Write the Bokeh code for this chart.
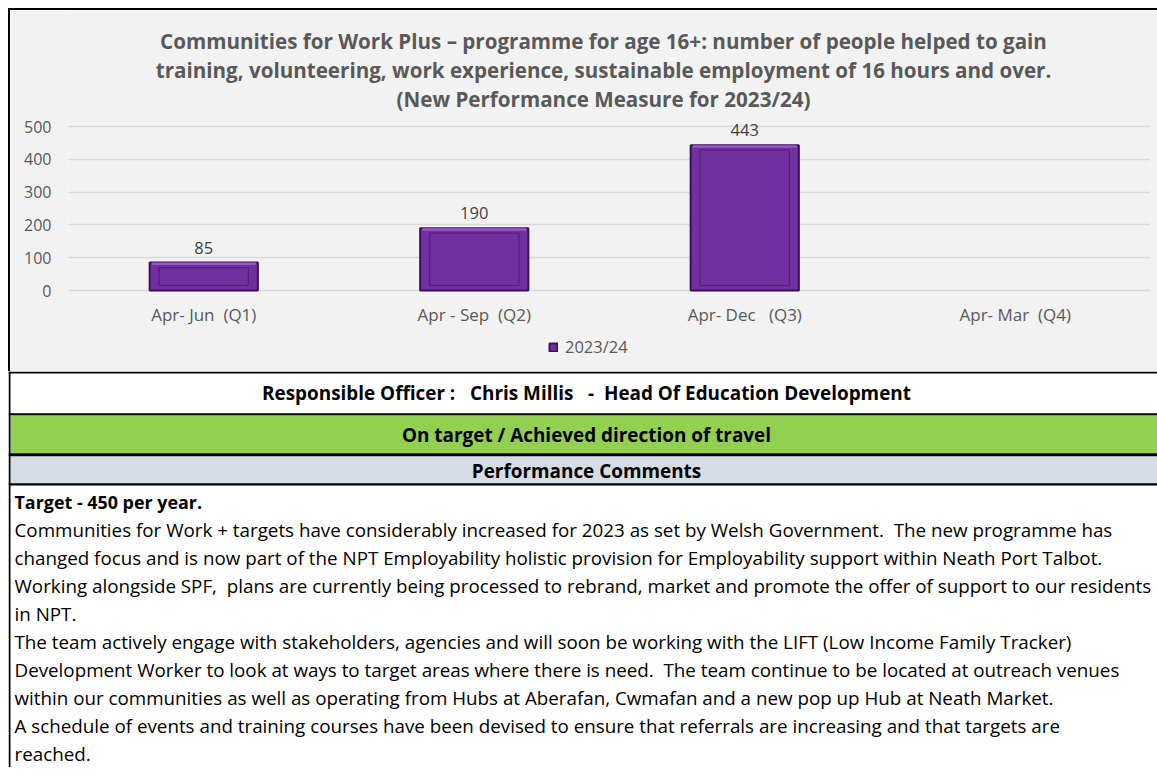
from bokeh.plotting import figure
from bokeh.models import (Range1d, FactorRange, FixedTicker, Label, Legend,
                          LegendItem, ColumnDataSource, Div)
from bokeh.layouts import column, row
from bokeh.embed import file_html
from bokeh.resources import INLINE
from bokeh.core.properties import value

NB = "\u00a0"

# ---------------- data ----------------
quarters = ["Apr-" + NB + "Jun" + NB * 2 + "(Q1)",
            "Apr" + NB + "-" + NB + "Sep" + NB * 2 + "(Q2)",
            "Apr-" + NB + "Dec" + NB * 3 + "(Q3)",
            "Apr-" + NB + "Mar" + NB * 2 + "(Q4)"]
people_2023_24 = [85, 190, 443, None]
series_name = "2023/24"
y_ticks = [0, 100, 200, 300, 400, 500]

title_lines = [
    "Communities for Work Plus \u2013 programme for age 16+: number of people helped to gain",
    "training, volunteering, work experience, sustainable employment of 16 hours and over.",
    "(New Performance Measure for 2023/24)",
]
officer_text = "Responsible Officer :" + NB * 2 + " Chris Millis" + NB * 2 + " -" + NB + " Head Of Education Development"
status_text = "On target / Achieved direction of travel"
comments_header = "Performance Comments"
comment_title = "Target - 450 per year."
comment_lines = [
    "Communities for Work + targets have considerably increased for 2023 as set by Welsh Government." + NB + " The new programme has",
    "changed focus and is now part of the NPT Employability holistic provision for Employability support within Neath Port Talbot.",
    "Working alongside SPF," + NB + " plans are currently being processed to rebrand, market and promote the offer of support to our residents",
    "in NPT.",
    "The team actively engage with stakeholders, agencies and will soon be working with the LIFT (Low Income Family Tracker)",
    "Development Worker to look at ways to target areas where there is need." + NB + " The team continue to be located at outreach venues",
    "within our communities as well as operating from Hubs at Aberafan, Cwmafan and a new pop up Hub at Neath Market.",
    "A schedule of events and training courses have been devised to ensure that referrals are increasing and that targets are",
    "reached.",
]

FONT = "Open Sans"
GREY = "#595959"
BG = "#f2f2f2"

# ---------------- chart ----------------
W1, H1 = 1147, 361
ZERO_PX = 280            # pixel row of the 0 line inside the chart figure
px_per_unit = 164 / 500
y_end = ZERO_PX / px_per_unit
y_start = -(H1 - ZERO_PX) / px_per_unit

p = figure(width=W1, height=H1, x_range=FactorRange(*quarters),
           y_range=Range1d(y_start, y_end), x_axis_location=None,
           output_backend="svg", toolbar_location=None,
           min_border_left=58, min_border_right=7, min_border_top=0,
           min_border_bottom=0)
p.background_fill_color = BG
p.border_fill_color = BG
p.outline_line_color = None

xs = [q for q, v in zip(quarters, people_2023_24) if v is not None]
vs = [v for v in people_2023_24 if v is not None]
src = ColumnDataSource(dict(x=xs, top=vs, label=[str(v) for v in vs],
                            hl_bottom=[v - 2.5 / px_per_unit for v in vs],
                            in_top=[v - 5 / px_per_unit for v in vs]))

bars = p.vbar(x="x", top="top", bottom=0, width=0.4, source=src,
              fill_color="#7030a0", line_color="#3b1257", line_width=2)
p.vbar(x="x", top="top", bottom="hl_bottom", width=0.385, source=src,
       fill_color="#9c57cf", line_color=None)
p.vbar(x="x", top="in_top", bottom=5 / px_per_unit, width=0.33, source=src,
       fill_color=None, line_color="#54207a", line_width=1.2)

# value labels above bars
p.text(x="x", y="top", text="label", source=src, text_align="center",
       text_baseline="middle", y_offset=-15, text_color="#404040",
       text_font=value(FONT), text_font_size="16.5px")

# category labels under the zero line
p.text(x=quarters, y=[0] * len(quarters), text=quarters, text_align="center",
       text_baseline="middle", y_offset=24, text_color=GREY,
       text_font=value(FONT), text_font_size="17px")

p.yaxis.ticker = FixedTicker(ticks=y_ticks)
p.ygrid.ticker = FixedTicker(ticks=y_ticks)
p.ygrid.grid_line_color = "#d9d9d9"
p.ygrid.grid_line_width = 1.3
p.xgrid.grid_line_color = None
p.yaxis.axis_line_color = None
p.yaxis.major_tick_line_color = None
p.yaxis.minor_tick_line_color = None
p.yaxis.major_tick_out = 0
p.yaxis.major_tick_in = 0
p.yaxis.major_label_text_color = GREY
p.yaxis.major_label_text_font = FONT
p.yaxis.major_label_text_font_size = "16px"
p.yaxis.major_label_standoff = 17

title_px = [250, 221, 192]
for txt, px in zip(title_lines, title_px):
    p.add_layout(Label(x=2.0, y=px / px_per_unit, text=txt, text_align="center",
                       text_baseline="middle", x_offset=-6, text_font=FONT,
                       text_font_size="20.6px", text_font_style="bold",
                       text_color=GREY))

legend = Legend(items=[LegendItem(label=series_name, renderers=[bars])],
                location=(480, 13), orientation="horizontal",
                background_fill_alpha=0, border_line_color=None,
                padding=0, margin=0, glyph_width=10, glyph_height=10,
                label_standoff=7, label_text_font=FONT,
                label_text_font_size="16.5px", label_text_color=GREY)
p.add_layout(legend, "center")

# ---------------- table ----------------
W2, H2 = 1149, 396
t = figure(width=W2, height=H2, x_range=Range1d(0, W2), y_range=Range1d(H2, 0),
           output_backend="svg", toolbar_location=None, min_border=0,
           x_axis_type=None, y_axis_type=None)
t.grid.visible = False
t.outline_line_color = None
t.background_fill_color = "white"
t.border_fill_color = "white"

row_tops = [2, 43.7, 84.7, 114]
row_bottoms = [41.7, 81.7, 111.7, H2]
row_fills = ["white", "#92d050", "#d6dce4", "white"]
t.quad(left=2, right=W2, top=row_tops, bottom=row_bottoms, fill_color=row_fills,
       line_color=None)
t.quad(left=0, right=W2, top=[0, 41.7, 81.7, 111.7], bottom=[2, 43.7, 84.7, 114],
       fill_color="black", line_color=None)
t.quad(left=0, right=2, top=0, bottom=H2, fill_color="black", line_color=None)

hdr_texts = [officer_text, status_text, comments_header]
hdr_y = [21, 63, 99]
t.text(x=[578] * 3, y=hdr_y, text=hdr_texts, text_align="center",
       text_baseline="middle", text_color="black", text_font=value(FONT),
       text_font_size="18.9px", text_font_style="bold")

t.text(x=[6], y=[130], text=[comment_title], text_baseline="middle",
       text_color="black", text_font=value(FONT), text_font_size="17.9px",
       text_font_style="bold")
t.text(x=[6] * len(comment_lines), y=[158 + 28 * i for i in range(len(comment_lines))],
       text=comment_lines, text_baseline="middle", text_color="black",
       text_font=value(FONT), text_font_size="18.8px")

top_border = Div(width=1149, height=2, margin=0, styles={"background-color": "black"})
left_border = Div(width=2, height=H1, margin=0, styles={"background-color": "black"})
layout = column(top_border, row(left_border, p, spacing=0), t, spacing=0,
                margin=(8, 0, 0, 8))

open("out.html", "w").write(file_html(layout, INLINE))
